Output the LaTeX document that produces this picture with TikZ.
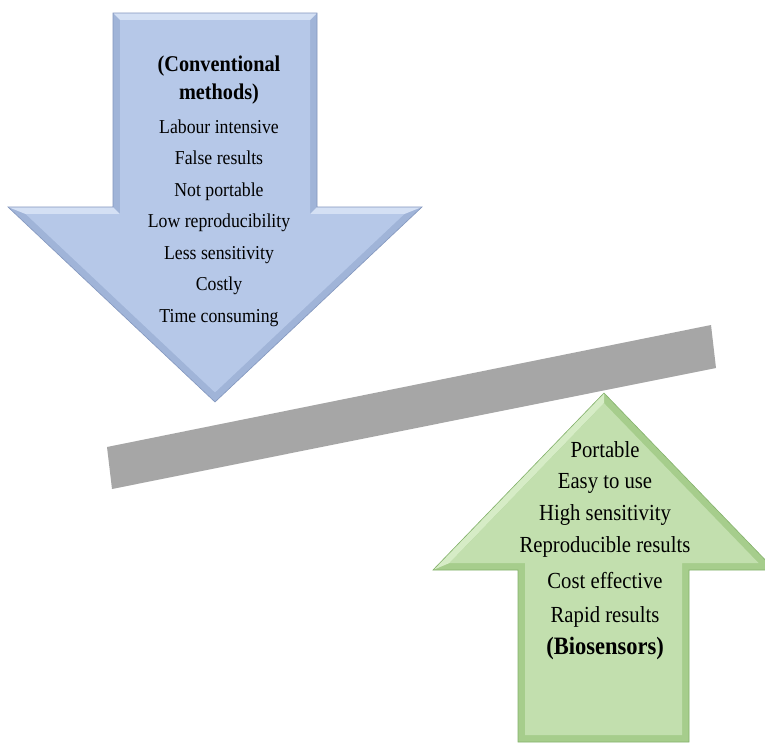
\documentclass[tikz,border=0pt]{standalone}
\usepackage{fontspec}
\setmainfont{Liberation Serif}[FakeStretch=0.9]
\begin{document}
\begin{tikzpicture}[x=1pt,y=-1pt,
  bluemain/.style={fill={rgb,255:red,182;green,200;blue,232}},
  blueband/.style={fill={rgb,255:red,160;green,180;blue,216}},
  bluelight/.style={fill={rgb,255:red,212;green,224;blue,244}},
  blueline/.style={draw={rgb,255:red,130;green,150;blue,190},line width=0.6pt,line join=miter},
  greenmain/.style={fill={rgb,255:red,194;green,223;blue,174}},
  greenband/.style={fill={rgb,255:red,166;green,205;blue,140}},
  greenlight/.style={fill={rgb,255:red,214;green,236;blue,198}},
  greenline/.style={draw={rgb,255:red,132;green,178;blue,108},line width=0.6pt,line join=miter},
  bartone/.style={fill={rgb,255:red,166;green,166;blue,166}},
  btxt/.style={anchor=base,inner sep=0pt,font=\fontsize{19.7}{22}\selectfont},
  bbold/.style={anchor=base,inner sep=0pt,font=\fontsize{22.5}{25}\selectfont\bfseries},
  gtxt/.style={anchor=base,inner sep=0pt,font=\fontsize{23}{26}\selectfont},
  gbold/.style={anchor=base,inner sep=0pt,font=\fontsize{25}{28}\selectfont\bfseries}]
\useasboundingbox (0,0) rectangle (765,744);
\fill[white] (0,0) rectangle (765,744);

% ---------- blue arrow (down) ----------
\coordinate (bA) at (113,13);   \coordinate (bB) at (317,13);
\coordinate (bC) at (317,207);  \coordinate (bD) at (422,207);
\coordinate (bE) at (215,402);  \coordinate (bF) at (8,207);
\coordinate (bG) at (113,207);
\coordinate (bA1) at (120,20);  \coordinate (bB1) at (310,20);
\coordinate (bC1) at (310,214); \coordinate (bD1) at (404.4,214);
\coordinate (bE1) at (215,392.4); \coordinate (bF1) at (25.6,214);
\coordinate (bG1) at (120,214);
\path[blueband] (bA) -- (bB) -- (bC) -- (bD) -- (bE) -- (bF) -- (bG) -- cycle;
\path[bluelight] (bA) -- (bB) -- (bB1) -- (bA1) -- cycle;
\path[bluelight] (bF) -- (bG) -- (bG1) -- (bF1) -- cycle;
\path[bluelight] (bC) -- (bD) -- (bD1) -- (bC1) -- cycle;
\path[bluemain] (bA1) -- (bB1) -- (bC1) -- (bD1) -- (bE1) -- (bF1) -- (bG1) -- cycle;
\path[blueline] (bA) -- (bB) -- (bC) -- (bD) -- (bE) -- (bF) -- (bG) -- cycle;

% ---------- grey beam ----------
\path[bartone] (107,447) -- (711,325) -- (716,368) -- (112,489) -- cycle;

% ---------- green arrow (up) ----------
\coordinate (gA) at (604,393);  \coordinate (gB) at (775,570);
\coordinate (gC) at (689,570);  \coordinate (gD) at (689,742);
\coordinate (gE) at (518,742);  \coordinate (gF) at (518,570);
\coordinate (gG) at (433,570);
\coordinate (gA1) at (604,403.2); \coordinate (gB1) at (758.5,563);
\coordinate (gC1) at (682,563);   \coordinate (gD1) at (682,735);
\coordinate (gE1) at (525,735);   \coordinate (gF1) at (525,563);
\coordinate (gG1) at (449.5,563);
\path[greenband] (gA) -- (gB) -- (gC) -- (gD) -- (gE) -- (gF) -- (gG) -- cycle;
\path[greenlight] (gG) -- (gA) -- (gA1) -- (gG1) -- cycle;
\path[greenmain] (gA1) -- (gB1) -- (gC1) -- (gD1) -- (gE1) -- (gF1) -- (gG1) -- cycle;
\path[greenline] (gA) -- (gB) -- (gC) -- (gD) -- (gE) -- (gF) -- (gG) -- cycle;

% ---------- blue texts ----------
\node[bbold] (c1) at (219,71)    {(Conventional};
\node[bbold] (c2) at (219,99)    {methods)};
\node[btxt]  (c3) at (219,133)   {Labour intensive};
\node[btxt]  (c4) at (219,164.5) {False results};
\node[btxt]  (c5) at (219,196)   {Not portable};
\node[btxt]  (c6) at (219,227.5) {Low reproducibility};
\node[btxt]  (c7) at (219,259)   {Less sensitivity};
\node[btxt]  (c8) at (219,290.5) {Costly};
\node[btxt]  (c9) at (219,322)   {Time consuming};

% ---------- green texts ----------
\node[gtxt]  (g1) at (605,457) {Portable};
\node[gtxt]  (g2) at (605,488) {Easy to use};
\node[gtxt]  (g3) at (605,520) {High sensitivity};
\node[gtxt]  (g4) at (605,552) {Reproducible results};
\node[gtxt]  (g5) at (605,588) {Cost effective};
\node[gtxt]  (g6) at (605,622) {Rapid results};
\node[gbold] (g7) at (605,654) {(Biosensors)};
\end{tikzpicture}
\end{document}
